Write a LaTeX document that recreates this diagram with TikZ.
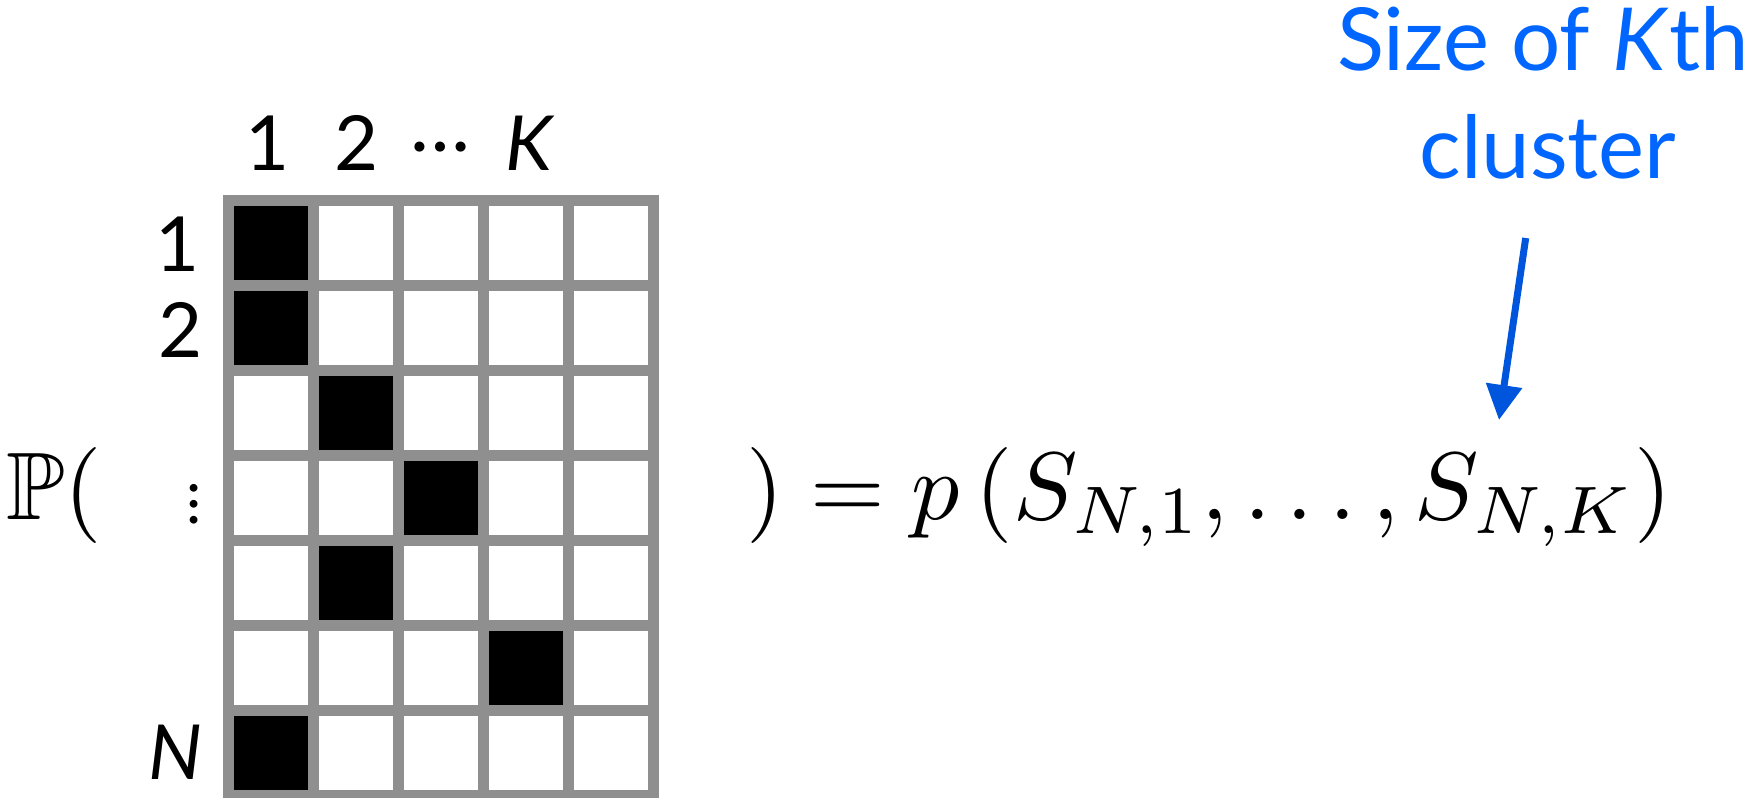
\documentclass[tikz,border=0pt]{standalone}
\usepackage{amssymb}
\usepackage{graphicx}
\usepackage{fontspec}
\setmainfont{Lato}
\usetikzlibrary{arrows.meta}
\definecolor{gridgray}{RGB}{143,143,143}
\definecolor{textblue}{RGB}{0,102,255}
\definecolor{arrowblue}{RGB}{0,85,221}
\tikzset{
  gridline/.style={draw=gridgray, line width=10.7pt, line cap=rect},
  filled/.style={fill=black},
  lbl/.style={inner sep=0pt, font=\fontsize{76}{90}\selectfont},
  mathlbl/.style={inner sep=0pt, font=\fontsize{10}{12}\selectfont},
  bluelbl/.style={inner sep=0pt, text=textblue, font=\fontsize{87}{108}\selectfont},
  bluearrow/.style={draw=arrowblue, line width=7pt, -{Triangle[length=35pt,width=35pt]}}
}
\begin{document}
\begin{tikzpicture}[x=1pt,y=-1pt]
\useasboundingbox (0,0) rectangle (1754,798);
% black cells (col,row)
\foreach \c/\r in {1/1,1/2,2/3,3/4,2/5,4/6,1/7}{
  \fill[filled] ({228.4+85*(\c-1)},{200.4+85*(\r-1)}) rectangle ({228.4+85*\c},{200.4+85*\r});
}
% grid lines
\foreach \k in {0,...,5}{
  \draw[gridline] ({228.4+85*\k},200.4) -- ({228.4+85*\k},795.4);
}
\foreach \k in {0,...,7}{
  \draw[gridline] (228.4,{200.4+85*\k}) -- (653.4,{200.4+85*\k});
}
% column labels
\node[lbl, anchor=base] (c1) at (268,170) {1};
\node[lbl, anchor=base] (c2) at (357,170) {2};
\node[lbl, anchor=center] (cd) at (440,147) {\fontsize{80}{100}\selectfont …};
\node[lbl, anchor=base] (cK) at (530,170) {\textit{K}};
% row labels
\node[lbl, anchor=base east] (r1) at (200,271) {1};
\node[lbl, anchor=base east] (r2) at (203,357) {2};
\node[lbl, anchor=center] (rd) at (194,504) {\rotatebox{90}{\fontsize{62}{70}\selectfont …}};
\node[lbl, anchor=base east] (rN) at (203,779) {\textit{N}};
% formula
\node[mathlbl, anchor=base west] (lhs) at (6,519) {\scalebox{9.6}{$\mathbb{P}($}};
\node[mathlbl, anchor=base west] (rhs) at (746,519) {\scalebox{9.6}{$)=p\left(S_{N,1},\ldots,S_{N,K}\right)$}};
% blue annotation
\node[bluelbl, anchor=base] (t1) at (1543,70) {Size of \textit{K}th};
\node[bluelbl, anchor=base] (t2) at (1548,178) {cluster};
\coordinate (astart) at (1525.7,238);
\coordinate (aend) at (1499,420);
\draw[bluearrow] (astart) -- (aend);
\end{tikzpicture}
\end{document}
